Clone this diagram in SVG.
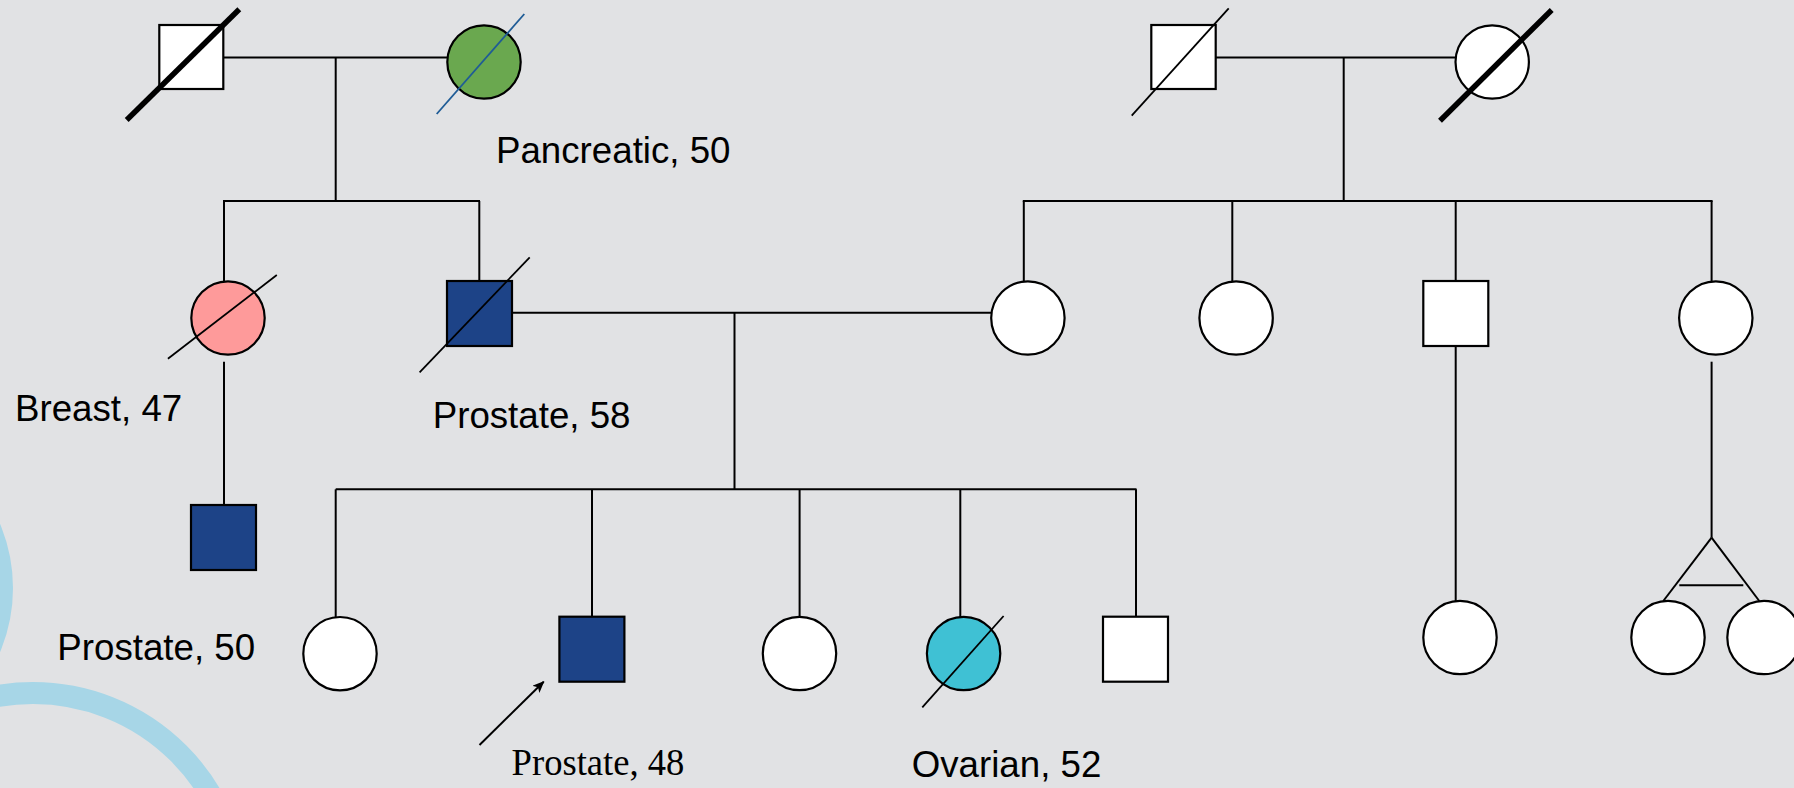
<svg xmlns="http://www.w3.org/2000/svg" width="1794" height="788" viewBox="0 0 1794 788">
  <defs>
    <style>
      .ln { stroke: #000; stroke-width: 2; fill: none; }
      .shape { stroke: #000; stroke-width: 2.2; }
      .white { fill: #ffffff; }
      .affected { fill: #1d4387; }
      .slash { stroke: #000; stroke-width: 1.8; }
      .slash-bold { stroke: #000; stroke-width: 5.5; }
      .lbl { font-family: "Liberation Sans", Arial, sans-serif; font-size: 36.7px; fill: #000; }
      .lbl-serif { font-family: "Liberation Serif", "Times New Roman", serif; font-size: 37px; fill: #000; }
      .deco { fill: none; stroke: #a7d6e7; stroke-width: 22; }
    </style>
    <marker id="arrowhead" markerWidth="12" markerHeight="10" refX="11" refY="5" orient="auto" markerUnits="userSpaceOnUse">
      <path d="M0,0 L12,5 L0,10 L3,5 Z" fill="#000"/>
    </marker>
  </defs>

  <!-- page background -->
  <rect x="0" y="0" width="1794" height="788" fill="#e1e2e4"/>

  <!-- decorative rings along the left edge -->
  <g id="decoration">
    <circle class="deco" cx="-152" cy="588" r="154"/>
    <circle class="deco" cx="33" cy="899" r="206"/>
  </g>

  <!-- lines of descent and partnership -->
  <g id="connectors">
    <!-- grandparents, paternal side -->
    <line class="ln" x1="223" y1="57.5" x2="447" y2="57.5"/>
    <line class="ln" x1="335.7" y1="57.5" x2="335.7" y2="201"/>
    <line class="ln" x1="223" y1="201" x2="480" y2="201"/>
    <line class="ln" x1="224" y1="201" x2="224" y2="281"/>
    <line class="ln" x1="479.3" y1="201" x2="479.3" y2="281"/>
    <!-- grandparents, maternal side -->
    <line class="ln" x1="1215.7" y1="57.5" x2="1455.3" y2="57.5"/>
    <line class="ln" x1="1343.7" y1="57.5" x2="1343.7" y2="201"/>
    <line class="ln" x1="1022.8" y1="201" x2="1712.6" y2="201"/>
    <line class="ln" x1="1023.8" y1="201" x2="1023.8" y2="281"/>
    <line class="ln" x1="1232.3" y1="201" x2="1232.3" y2="281"/>
    <line class="ln" x1="1455.7" y1="201" x2="1455.7" y2="281"/>
    <line class="ln" x1="1711.6" y1="201" x2="1711.6" y2="281"/>
    <!-- parents -->
    <line class="ln" x1="512" y1="312.7" x2="991" y2="312.7"/>
    <line class="ln" x1="734.5" y1="312.7" x2="734.5" y2="489.3"/>
    <line class="ln" x1="335.7" y1="489.3" x2="1136.5" y2="489.3"/>
    <line class="ln" x1="335.7" y1="489.3" x2="335.7" y2="617.3"/>
    <line class="ln" x1="592" y1="489.3" x2="592" y2="617"/>
    <line class="ln" x1="799.6" y1="489.3" x2="799.6" y2="617"/>
    <line class="ln" x1="960.3" y1="489.3" x2="960.3" y2="617"/>
    <line class="ln" x1="1136" y1="489.3" x2="1136" y2="617"/>
    <!-- aunt's son -->
    <line class="ln" x1="224" y1="361.7" x2="224" y2="505"/>
    <!-- maternal uncle's daughter -->
    <line class="ln" x1="1455.7" y1="346" x2="1455.7" y2="601"/>
    <!-- maternal aunt's twins -->
    <line class="ln" x1="1711.6" y1="361.7" x2="1711.6" y2="537.7"/>
    <line class="ln" x1="1711.6" y1="537.7" x2="1663.3" y2="601"/>
    <line class="ln" x1="1711.6" y1="537.7" x2="1759.3" y2="601"/>
    <line class="ln" x1="1679.3" y1="585.3" x2="1743.3" y2="585.3"/>
    <!-- proband pointer -->
    <line class="ln" x1="479.5" y1="745" x2="543.7" y2="681.7" marker-end="url(#arrowhead)"/>
  </g>

  <!-- generation I -->
  <g id="pgf">
    <rect class="shape white" x="159.3" y="25" width="64" height="64"/>
    <line class="slash-bold" x1="126.7" y1="120" x2="239.3" y2="9.3"/>
  </g>
  <g id="pgm">
    <circle class="shape" cx="484" cy="62" r="36.7" fill="#6aa84f"/>
    <line x1="436.7" y1="114" x2="524.3" y2="14" stroke="#1f5c96" stroke-width="1.8"/>
    <text class="lbl" x="496" y="163.3">Pancreatic, 50</text>
  </g>
  <g id="mgf">
    <rect class="shape white" x="1151.3" y="25" width="64.4" height="64"/>
    <line class="slash" x1="1131.7" y1="115.7" x2="1228.7" y2="8.3"/>
  </g>
  <g id="mgm">
    <circle class="shape white" cx="1492.2" cy="62" r="36.7"/>
    <line class="slash-bold" x1="1440" y1="120.7" x2="1551.7" y2="10"/>
  </g>

  <!-- generation II -->
  <g id="aunt">
    <circle class="shape" cx="228" cy="318" r="36.7" fill="#fe9a9a"/>
    <line class="slash" x1="167.9" y1="358.7" x2="276.8" y2="275"/>
    <text class="lbl" x="15" y="421">Breast, 47</text>
  </g>
  <g id="father">
    <rect class="shape affected" x="447" y="281" width="65" height="65"/>
    <line class="slash" x1="419.6" y1="372.3" x2="529.7" y2="257.4"/>
    <text class="lbl" x="432.7" y="428.3">Prostate, 58</text>
  </g>
  <g id="mother">
    <circle class="shape white" cx="1027.9" cy="318" r="36.7"/>
  </g>
  <g id="maunt1">
    <circle class="shape white" cx="1236.1" cy="318" r="36.7"/>
  </g>
  <g id="muncle">
    <rect class="shape white" x="1423.3" y="281" width="65" height="65"/>
  </g>
  <g id="maunt2">
    <circle class="shape white" cx="1715.8" cy="318" r="36.7"/>
  </g>

  <!-- generation III -->
  <g id="cousin1">
    <rect class="shape affected" x="191" y="505" width="65" height="65"/>
    <text class="lbl" x="57.3" y="660">Prostate, 50</text>
  </g>
  <g id="sister1">
    <circle class="shape white" cx="340" cy="653.7" r="36.7"/>
  </g>
  <g id="proband">
    <rect class="shape affected" x="559.4" y="616.7" width="65" height="65"/>
    <text class="lbl-serif" x="511.6" y="775" textLength="172.8" lengthAdjust="spacingAndGlyphs">Prostate, 48</text>
  </g>
  <g id="sister2">
    <circle class="shape white" cx="799.5" cy="653.5" r="36.7"/>
  </g>
  <g id="sister3">
    <circle class="shape" cx="963.6" cy="653.5" r="36.7" fill="#3fc1d4"/>
    <line class="slash" x1="922.3" y1="707.3" x2="1003.6" y2="616"/>
    <text class="lbl" x="911.7" y="777.3">Ovarian, 52</text>
  </g>
  <g id="brother">
    <rect class="shape white" x="1103" y="616.7" width="65" height="65"/>
  </g>
  <g id="cousin2">
    <circle class="shape white" cx="1460" cy="637.5" r="36.7"/>
  </g>
  <g id="twin1">
    <circle class="shape white" cx="1668" cy="637.5" r="36.7"/>
  </g>
  <g id="twin2">
    <circle class="shape white" cx="1764" cy="637.5" r="36.7"/>
  </g>
</svg>
